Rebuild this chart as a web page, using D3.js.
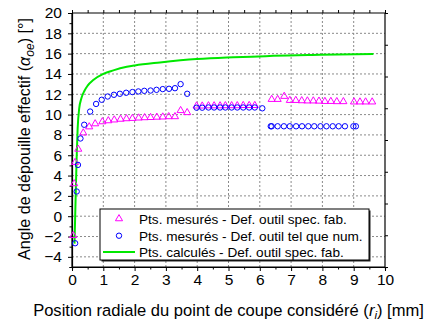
<!DOCTYPE html>
<html><head><meta charset="utf-8">
<script src="https://cdn.jsdelivr.net/npm/d3@7"></script>
<style>
html,body{margin:0;padding:0;background:#fff;}
svg{display:block;font-family:"Liberation Sans",Arial,sans-serif;}
</style></head>
<body><svg id="c" width="430" height="325"></svg>
<script>
// ---- data ----
const xTicks = [0,1,2,3,4,5,6,7,8,9,10];
const yTicks = [-4,-2,0,2,4,6,8,10,12,14,16,18,20];
const legendLabels = [
  "Pts. mesurés - Def. outil spec. fab.",
  "Pts. mesurés - Def. outil tel que num.",
  "Pts. calculés - Def. outil spec. fab."
];
// calculated curve (green)
const calcX = [0.08,0.12,0.15,0.18,0.23,0.30,0.39,0.50,0.68,1.00,1.32,1.75,2.01,2.81,3.98,4.94,5.95,6.43,7.92,9.63];
const calcY = [-2.7,2.3,5.9,8.6,10.6,11.6,12.3,12.85,13.4,14.0,14.35,14.7,14.84,15.13,15.47,15.63,15.72,15.79,15.89,15.96];
// measured - spec (triangles)
const triX = [0.04,0.07,0.10,0.20,0.36,0.55,0.74,0.97,1.16,1.35,1.55,1.74,1.93,2.13,2.32,2.51,2.71,2.90,3.09,3.29,3.47,3.68,
  3.98,4.16,4.36,4.54,4.73,4.90,5.10,5.28,5.47,5.66,5.84,
  6.38,6.57,6.78,6.96,7.15,7.34,7.52,7.71,7.89,8.08,8.27,8.46,8.67,9.01,9.20,9.38,9.59];
const triY = [-1.9,3.2,5.3,6.6,8.2,8.8,9.1,9.3,9.4,9.48,9.55,9.6,9.63,9.67,9.7,9.72,9.75,9.77,9.8,9.8,10.4,10.2,
  10.85,10.85,10.87,10.87,10.87,10.88,10.88,10.88,10.9,10.9,10.9,
  11.5,11.5,11.8,11.4,11.4,11.37,11.35,11.35,11.33,11.3,11.3,11.28,11.28,11.25,11.25,11.25,11.25];
// measured - numeric tool (circles)
const cirX = [0.10,0.15,0.19,0.27,0.39,0.58,0.77,0.95,1.14,1.34,1.53,1.73,1.93,2.12,2.31,2.51,2.70,2.90,3.10,3.29,3.47,3.68,
  3.98,4.16,4.36,4.54,4.73,4.90,5.10,5.28,5.47,5.66,5.84,6.08,
  6.35,6.38,6.57,6.77,6.96,7.16,7.35,7.55,7.74,7.94,8.13,8.33,8.52,8.72,8.99,9.07];
const cirY = [-2.66,2.43,5.05,7.65,9.0,10.3,11.05,11.46,11.78,11.95,12.05,12.15,12.22,12.28,12.34,12.37,12.44,12.51,12.54,12.6,13.0,12.05,
  10.68,10.68,10.7,10.7,10.7,10.7,10.7,10.7,10.7,10.7,10.7,10.62,
  8.85,8.85,8.85,8.85,8.85,8.85,8.85,8.85,8.85,8.85,8.85,8.85,8.85,8.85,8.85,8.85];

// ---- layout ----
const svg = d3.select("#c");
const L=72, R=385, T=13, B=267;
const x = d3.scaleLinear().domain([0,10]).range([L,R]);
const y = d3.scaleLinear().domain([-5,20]).range([B,T]);
const yR = d3.scaleLinear().domain([0,8]).range([B,T]);
const cMag="#ff00ff", cBlue="#0000ff", cGreen="#00e800";

// grid
const g = svg.append("g");
g.selectAll(".gx").data(xTicks.slice(1,-1)).join("line")
  .attr("x1",d=>x(d)).attr("x2",d=>x(d)).attr("y1",T).attr("y2",B)
  .attr("stroke","#8a8a8a").attr("stroke-width",1).attr("stroke-dasharray","2,2");
g.selectAll(".gy").data(yTicks.filter(d=>d<20)).join("line")
  .attr("y1",d=>y(d)).attr("y2",d=>y(d)).attr("x1",L).attr("x2",R)
  .attr("stroke","#8a8a8a").attr("stroke-width",1).attr("stroke-dasharray","2,2");

// axes
const fs = 15.5;
const ax = svg.append("g").attr("transform",`translate(0,${B})`)
  .call(d3.axisBottom(x).tickValues(xTicks).tickSize(4).tickPadding(3).tickFormat(d3.format("d")));
const axm = svg.append("g").attr("transform",`translate(0,${B})`)
  .call(d3.axisBottom(x).tickValues(d3.range(0.5,10,1)).tickSize(2.5).tickFormat(""));
const ay = svg.append("g").attr("transform",`translate(${L},0)`)
  .call(d3.axisLeft(y).tickValues(yTicks).tickSize(4).tickPadding(6).tickFormat(d3.format("d")));
const aym = svg.append("g").attr("transform",`translate(${L},0)`)
  .call(d3.axisLeft(y).tickValues(d3.range(-5,20,2)).tickSize(2.5).tickFormat(""));
const at = svg.append("g").attr("transform",`translate(0,${T})`)
  .call(d3.axisTop(x).tickValues(d3.range(0,10.01,0.5)).tickSize(3).tickFormat(""));
const ar = svg.append("g").attr("transform",`translate(${R},0)`)
  .call(d3.axisRight(yR).tickValues(d3.range(0,9)).tickSize(3).tickFormat(""));
[ax,axm,ay,aym,at,ar].forEach(a=>{
  a.select(".domain").attr("stroke","#000").attr("stroke-width",1.2);
  a.selectAll(".tick line").attr("stroke","#000").attr("stroke-width",1);
  a.selectAll("text").attr("font-size",fs).attr("font-family","Liberation Sans, Arial").attr("fill","#000");
});
ax.select(".domain").attr("d",`M${L},0H${R}`);
at.select(".domain").attr("d",`M${L},0H${R}`);
ay.select(".domain").attr("d",`M0,${T}V${B}`);
ar.select(".domain").attr("d",`M0,${T}V${B}`);
svg.selectAll(".domain").attr("fill","none");

// green curve
const clip = svg.append("clipPath").attr("id","pc").append("rect")
  .attr("x",L).attr("y",T).attr("width",R-L).attr("height",B-T);
const line = d3.line().x(d=>x(d[0])).y(d=>y(d[1])).curve(d3.curveMonotoneX);
svg.append("path").datum(d3.zip(calcX,calcY)).attr("d",line)
  .attr("fill","none").attr("stroke",cGreen).attr("stroke-width",2).attr("clip-path","url(#pc)");

// triangles
const tri = d3.symbol().type(d3.symbolTriangle).size(22);
svg.append("g").selectAll("path").data(d3.zip(triX,triY)).join("path")
  .attr("d",tri).attr("transform",d=>`translate(${x(d[0])},${y(d[1])})`)
  .attr("fill","none").attr("stroke",cMag).attr("stroke-width",1);
// circles
svg.append("g").selectAll("circle").data(d3.zip(cirX,cirY)).join("circle")
  .attr("cx",d=>x(d[0])).attr("cy",d=>y(d[1])).attr("r",2.7)
  .attr("fill","none").attr("stroke",cBlue).attr("stroke-width",1);

// legend
const lg = svg.append("g");
const lx=100, ly=209, lw=269, lh=51;
lg.append("rect").attr("x",lx+1.5).attr("y",ly+1.5).attr("width",lw).attr("height",lh).attr("fill","#222");
lg.append("rect").attr("x",lx).attr("y",ly).attr("width",lw).attr("height",lh).attr("fill","#fff").attr("stroke","#000").attr("stroke-width",1);
const rows=[218.7,235.7,252];
lg.append("path").attr("d",tri).attr("transform",`translate(119,${rows[0]})`).attr("fill","none").attr("stroke",cMag);
lg.append("circle").attr("cx",119).attr("cy",rows[1]).attr("r",2.7).attr("fill","none").attr("stroke",cBlue);
lg.append("line").attr("x1",103).attr("x2",135).attr("y1",rows[2]).attr("y2",rows[2]).attr("stroke",cGreen).attr("stroke-width",2);
lg.selectAll("text.l").data(legendLabels).join("text")
  .attr("x",139).attr("y",(d,i)=>rows[i]).attr("dy","0.36em")
  .attr("font-size",13.6).attr("fill","#000").text(d=>d);

// titles
const xt = svg.append("text").attr("x",228.5).attr("y",316).attr("text-anchor","middle").attr("font-size",14.5).attr("fill","#000");
xt.append("tspan").text("Position radiale du point de coupe considéré (");
xt.append("tspan").attr("font-style","italic").text("r");
xt.append("tspan").attr("font-size","0.7em").attr("dy","0.25em").attr("font-style","italic").text("i");
xt.append("tspan").attr("dy","-0.18em").text(") [mm]");

const yt = svg.append("text").attr("transform","translate(30,139) rotate(-90)").attr("text-anchor","middle").attr("font-size",14.5).attr("fill","#000");
yt.append("tspan").text("Angle de dépouille effectif (");
yt.append("tspan").attr("font-style","italic").text("α");
yt.append("tspan").attr("font-size","0.75em").attr("dy","0.3em").attr("font-style","italic").text("oe");
yt.append("tspan").attr("dy","-0.22em").text(") [°]");

// fit title widths to reference extents
function fit(sel, target){
  const w = sel.node().getBBox().width;
  const f = +sel.attr("font-size");
  sel.attr("font-size", f*target/w);
}
fit(xt, 391);
fit(yt, 242);
</script></body></html>
